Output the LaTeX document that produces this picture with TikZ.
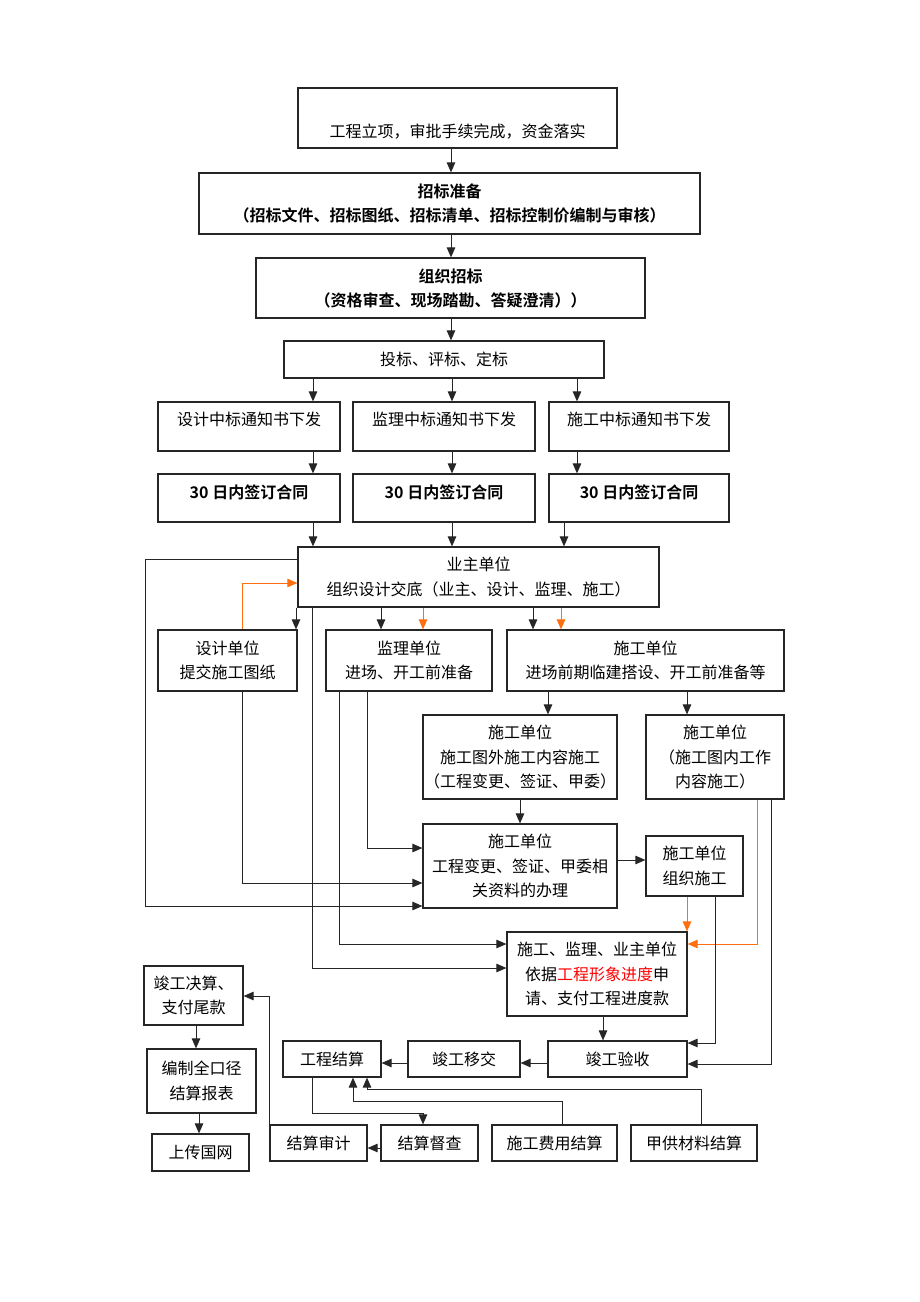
\documentclass[tikz,border=0pt]{standalone}
\usepackage{fontspec}
\setmainfont{Noto Sans CJK SC}[BoldFont={Noto Sans CJK SC Bold}]
\usetikzlibrary{arrows.meta}
\definecolor{tipline}{RGB}{255,110,15}

\begin{document}
\begin{tikzpicture}[x=1pt,y=-1pt,
    box/.style={draw=black!85, line width=1.2pt, inner sep=0pt, align=center,
                font=\fontsize{16}{24.5}\selectfont},
    boldbox/.style={box, font=\fontsize{16}{24}\selectfont\bfseries},
    arr/.style={-{Triangle[length=10pt,width=8.5pt]}, line width=1pt, draw=black!85},
    oarr/.style={arr, draw=tipline}]
    \useasboundingbox (0,0) rectangle (920,1302);

    % bidding
    \node[box, minimum width=319, minimum height=60, text height=40pt] (start) at (457.5,118) {工程立项，审批手续完成，资金落实};
    \node[boldbox, minimum width=501, minimum height=61] (prep) at (449.5,203.5) {招标准备\\（招标文件、招标图纸、招标清单、招标控制价编制与审核）};
    \node[boldbox, minimum width=389, minimum height=60] (org) at (450.5,288) {组织招标\\（资格审查、现场踏勘、答疑澄清））};
    \node[box, minimum width=320, minimum height=37] (bid) at (444,359.5) {投标、评标、定标};

    \node[box, minimum width=182, minimum height=49, text depth=15pt] (n1) at (249,426.5) {设计中标通知书下发};
    \node[box, minimum width=182, minimum height=49, text depth=15pt] (n2) at (444,426.5) {监理中标通知书下发};
    \node[box, minimum width=180, minimum height=49, text depth=15pt] (n3) at (639,426.5) {施工中标通知书下发};
    \node[boldbox, minimum width=182, minimum height=48, text depth=12pt] (c1) at (249,498) {30 日内签订合同};
    \node[boldbox, minimum width=182, minimum height=48, text depth=12pt] (c2) at (444,498) {30 日内签订合同};
    \node[boldbox, minimum width=180, minimum height=48, text depth=12pt] (c3) at (639,498) {30 日内签订合同};

    % construction
    \node[box, minimum width=361, minimum height=60] (owner) at (478.5,577) {业主单位\\组织设计交底（业主、设计、监理、施工）};
    \node[box, minimum width=139, minimum height=61] (design) at (227.5,660.5) {设计单位\\提交施工图纸};
    \node[box, minimum width=166, minimum height=61] (superv) at (409,660.5) {监理单位\\进场、开工前准备};
    \node[box, minimum width=277, minimum height=61] (build) at (645.5,660.5) {施工单位\\进场前期临建搭设、开工前准备等};
    \node[box, minimum width=194, minimum height=84] (outside) at (520,757) {施工单位\\施工图外施工内容施工\\（工程变更、签证、甲委）};
    \node[box, minimum width=138, minimum height=84] (inside) at (715,757) {施工单位\\（施工图内工作\\内容施工）};
    \node[box, minimum width=194, minimum height=84] (change) at (520,866) {施工单位\\工程变更、签证、甲委相\\关资料的办理};
    \node[box, minimum width=97, minimum height=60] (organize) at (694.5,866) {施工单位\\组织施工};
    \node[box, minimum width=180, minimum height=84] (pay) at (597,974) {施工、监理、业主单位\\依据\textcolor{red}{工程形象进度}申\\请、支付工程进度款};

    % settlement
    \node[box, minimum width=139, minimum height=36] (accept) at (617.5,1059) {竣工验收};
    \node[box, minimum width=112, minimum height=36] (handover) at (464,1059) {竣工移交};
    \node[box, minimum width=98, minimum height=36] (settle) at (332,1059) {工程结算};
    \node[box, minimum width=97, minimum height=36] (audit) at (318.5,1143) {结算审计};
    \node[box, minimum width=97, minimum height=36] (supervise) at (429.5,1143) {结算督查};
    \node[box, minimum width=125, minimum height=36] (costs) at (554.5,1143) {施工费用结算};
    \node[box, minimum width=126, minimum height=36] (material) at (694,1143) {甲供材料结算};
    \node[box, minimum width=99, minimum height=59] (final) at (193.5,995.5) {竣工决算、\\支付尾款};
    \node[box, minimum width=109, minimum height=64] (report) at (201.5,1081) {编制全口径\\结算报表};
    \node[box, minimum width=97, minimum height=37] (upload) at (200.5,1152.5) {上传国网};

    % arrows, top part
    \draw[arr] (start.south -| 451,0) -- (prep.north -| 451,0);
    \draw[arr] (prep.south -| 451,0) -- (org.north -| 451,0);
    \draw[arr] (org.south -| 451,0) -- (bid.north -| 451,0);
    \draw[arr] (bid.south -| 313,0) -- (n1.north -| 313,0);
    \draw[arr] (bid.south -| 452,0) -- (n2.north -| 452,0);
    \draw[arr] (bid.south -| 577,0) -- (n3.north -| 577,0);
    \draw[arr] (n1.south -| 313,0) -- (c1.north -| 313,0);
    \draw[arr] (n2.south -| 452,0) -- (c2.north -| 452,0);
    \draw[arr] (n3.south -| 577,0) -- (c3.north -| 577,0);
    \draw[arr] (c1.south -| 313,0) -- (owner.north -| 313,0);
    \draw[arr] (c2.south -| 452,0) -- (owner.north -| 452,0);
    \draw[arr] (c3.south -| 564,0) -- (owner.north -| 564,0);

    % arrows, middle part
    \draw[arr] (owner.west |- 0,559) -| (145,906) -- (change.west |- 0,906);
    \draw[oarr] (design.north -| 242,0) |- (owner.west |- 0,583);
    \draw[arr] (owner.south -| 296,0) -- (design.north -| 296,0);
    \draw[arr] (owner.south -| 312,0) |- (pay.west |- 0,968);
    \draw[arr] (owner.south -| 381,0) -- (superv.north -| 381,0);
    \draw[oarr] (owner.south -| 423,0) -- (superv.north -| 423,0);
    \draw[arr] (owner.south -| 533,0) -- (build.north -| 533,0);
    \draw[oarr] (owner.south -| 561,0) -- (build.north -| 561,0);
    \draw[arr] (design.south -| 242,0) |- (change.west |- 0,883);
    \draw[arr] (superv.south -| 367,0) |- (change.west |- 0,848);
    \draw[arr] (superv.south -| 339,0) |- (pay.west |- 0,944);
    \draw[arr] (build.south -| 548,0) -- (outside.north -| 548,0);
    \draw[arr] (build.south -| 687,0) -- (inside.north -| 687,0);
    \draw[arr] (outside.south -| 520,0) -- (change.north -| 520,0);
    \draw[arr] (change.east |- 0,860) -- (organize.west |- 0,860);
    \draw[oarr] (organize.south -| 687,0) -- (pay.north -| 687,0);
    \draw[oarr] (inside.south -| 757,0) |- (pay.east |- 0,944);
    \draw[arr] (organize.south -| 715,0) |- (accept.east |- 0,1043);
    \draw[arr] (inside.south -| 771,0) |- (accept.east |- 0,1064);
    \draw[arr] (pay.south -| 603,0) -- (accept.north -| 603,0);

    % arrows, bottom part
    \draw[arr] (accept.west |- 0,1063) -- (handover.east |- 0,1063);
    \draw[arr] (handover.west |- 0,1063) -- (settle.east |- 0,1063);
    \draw[arr] (settle.south -| 312,0) -- (312,1113) -| (supervise.north -| 423,0);
    \draw[arr] (costs.north -| 562,0) -- (562,1101) -| (settle.south -| 353,0);
    \draw[arr] (material.north -| 701,0) -- (701,1089) -| (settle.south -| 367,0);
    \draw[arr] (supervise.west |- 0,1148) -- (audit.east |- 0,1148);
    \draw[arr] (audit.north west) |- (final.east |- 0,996);
    \draw[arr] (final.south -| 196,0) -- (report.north -| 196,0);
    \draw[arr] (report.south -| 199,0) -- (upload.north -| 199,0);
\end{tikzpicture}
\end{document}
